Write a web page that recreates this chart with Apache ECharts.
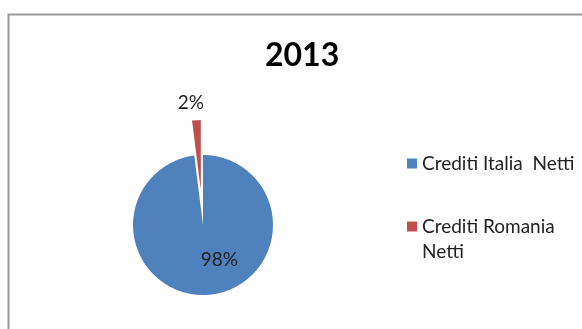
<!DOCTYPE html>
<html>
<head>
<meta charset="utf-8">
<script src="https://cdn.jsdelivr.net/npm/echarts@6/dist/echarts.min.js"></script>
<style>
  html, body { margin: 0; padding: 0; background: #fff; }
  #chart { width: 582px; height: 329px; }
</style>
</head>
<body>
<div id="chart"></div>
<script>
// dati del grafico
const titleText = '2013';
const categories = ['Crediti Italia  Netti', 'Crediti Romania Netti'];
// riga vuota iniziale: cosi' il quadratino resta allineato alla prima riga
const legendLabels = ['Crediti Italia  Netti', '\nCrediti Romania\nNetti'];
const values = [98, 2];
const colors = ['#4F81BD', '#C0504D'];
const labelShift = [[14, -3], [13, -9]];

const font = 'Lato, "Noto Sans", sans-serif';

const myChart = echarts.init(document.getElementById('chart'));

const option = {
    animation: false,
    title: {
        text: titleText,
        left: 260,
        top: 35,
        textStyle: {
            fontFamily: font,
            fontSize: 32,
            fontWeight: 'bold',
            color: '#000'
        }
    },
    legend: {
        orient: 'vertical',
        left: 402,
        top: 146,
        itemWidth: 10,
        itemHeight: 10,
        itemGap: 13,
        icon: 'rect',
        data: categories,
        formatter: name => legendLabels[categories.indexOf(name)],
        textStyle: {
            fontFamily: font,
            fontSize: 19,
            lineHeight: 25,
            color: '#222'
        }
    },
    graphic: [{
        type: 'rect',
        silent: true,
        shape: { x: 8.5, y: 14.5, width: 700, height: 400 },
        style: { fill: 'none', stroke: '#9a9a9a', lineWidth: 2 }
    }],
    series: [{
        name: titleText,
        type: 'pie',
        center: [203, 225],
        radius: 70,
        startAngle: 90,
        clockwise: true,
        selectedMode: 'single',
        selectedOffset: 35,
        emphasis: { disabled: true },
        labelLine: { show: false, length: 8, length2: 0 },
        label: {
            fontFamily: font,
            fontSize: 19,
            color: '#1f1f1f',
            formatter: '{d}%'
        },
        labelLayout: params => ({
            dx: labelShift[params.dataIndex][0],
            dy: labelShift[params.dataIndex][1]
        }),
        data: categories.map((name, i) => ({
            name: name,
            value: values[i],
            selected: i === 1,
            itemStyle: { color: colors[i] },
            label: { position: i === 0 ? 'inside' : 'outside' }
        }))
    }]
};

myChart.setOption(option);
</script>
</body>
</html>
